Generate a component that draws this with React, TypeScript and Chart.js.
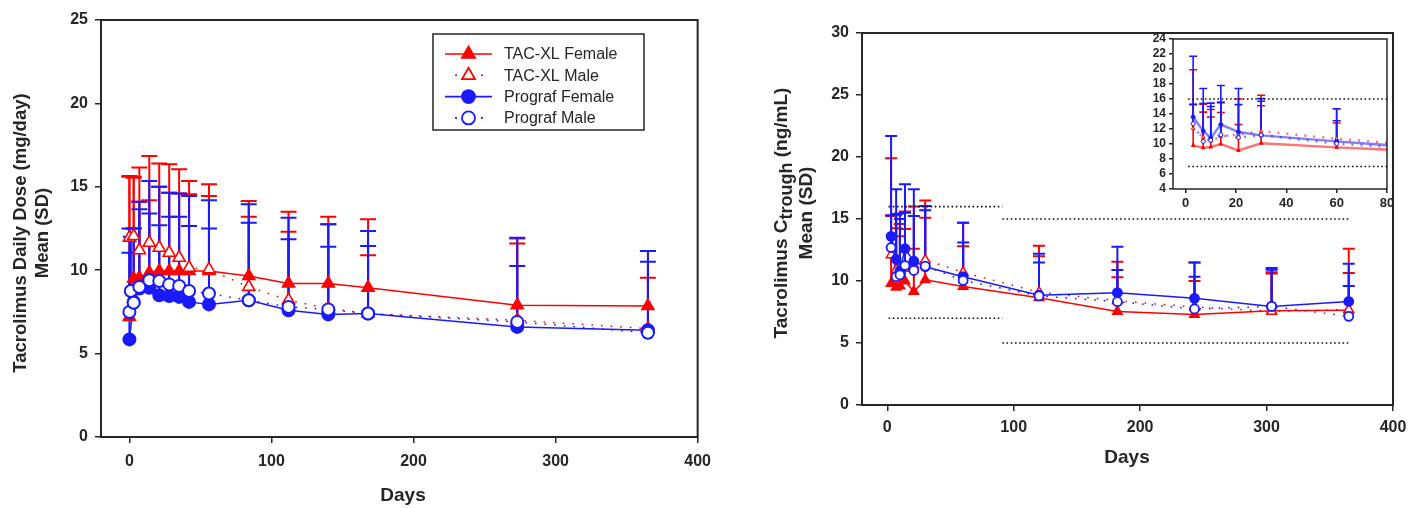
import React, { useEffect, useRef } from 'react';
import { Chart, registerables } from 'chart.js';

Chart.register(...registerables);

const FONT = "'Liberation Sans', Arial, Helvetica, sans-serif";
const RED = '#ff0000';
const BLUE = '#1a1aff';
const INK = '#262626';

// ---------------- Left panel: daily dose (mg/day) ----------------
const legendLabels = ['TAC-XL Female', 'TAC-XL Male', 'Prograf Female', 'Prograf Male'];
const doseXTicks = [0, 100, 200, 300, 400];
const doseYTicks = [0, 5, 10, 15, 20, 25];
const doseDays = [0, 3, 7, 14, 21, 28, 35, 42, 56, 84, 112, 140, 168, 273, 365];
const doseDaysPrografMale = [0, 1, 3, 7, 14, 21, 28, 35, 42, 56, 84, 112, 140, 168, 273, 365];

const doseTacFemaleMean = [7.2, 9.5, 9.55, 9.85, 9.95, 9.95, 9.95, 9.95, 9.95, 9.65, 9.2, 9.2, 8.95, 7.9, 7.85];
const doseTacFemaleSd = [8.4, 6.1, 6.6, 7.0, 6.45, 6.4, 6.1, 5.4, 5.2, 4.5, 4.3, 4.0, 4.1, 4.0, 3.3];
const doseTacMaleMean = [11.95, 12.05, 11.2, 11.65, 11.35, 11.05, 10.75, 10.15, 10.05, 9.0, 8.2, 7.7, 7.4, 7.0, 6.5];
const doseTacMaleSd = [3.7, 3.5, 2.9, 2.55, 3.65, 3.6, 3.85, 4.4, 4.4, 4.2, 4.1, 5.05, 3.5, 4.6, 3.05];
const dosePrografFemaleMean = [5.85, 8.1, 8.9, 8.95, 8.5, 8.45, 8.4, 8.1, 7.95, 8.2, 7.6, 7.35, 7.4, 6.6, 6.4];
const dosePrografFemaleSd = [5.2, 4.4, 5.2, 6.4, 6.5, 6.2, 6.2, 6.35, 6.25, 5.75, 5.55, 5.4, 4.95, 5.35, 4.75];
const dosePrografMaleMean = [7.5, 8.75, 8.05, 9.0, 9.4, 9.35, 9.15, 9.05, 8.75, 8.6, 8.2, 7.8, 7.65, 7.4, 6.9, 6.25];
const dosePrografMaleSd = [5.0, 3.25, 4.45, 4.65, 4.0, 3.35, 4.05, 4.15, 3.9, 3.9, 4.65, 4.05, 3.75, 4.05, 3.35, 4.25];

// ---------------- Right panel: trough concentration (ng/mL) ----------------
const troughXTicks = [0, 100, 200, 300, 400];
const troughYTicks = [0, 5, 10, 15, 20, 25, 30];
const insetXTicks = [0, 20, 40, 60, 80];
const insetYTicks = [4, 6, 8, 10, 12, 14, 16, 18, 20, 22, 24];
const troughDays = [3, 7, 10, 14, 21, 30, 60, 120, 182, 243, 304, 365];

const troughTacFemaleMean = [9.8, 9.5, 9.6, 10.0, 9.15, 10.1, 9.55, 8.65, 7.55, 7.3, 7.6, 7.65];
const troughTacFemaleSd = [10.1, 4.75, 4.0, 4.2, 3.45, 5.0, 3.25, 3.35, 2.75, 2.7, 3.1, 4.95];
const troughTacMaleMean = [12.1, 10.9, 10.4, 11.0, 11.3, 11.7, 10.7, 9.1, 8.4, 7.9, 7.55, 7.7];
const troughTacMaleSd = [3.15, 4.4, 4.2, 4.6, 4.7, 4.8, 4.0, 3.75, 3.15, 3.6, 3.05, 2.95];
const troughPrografFemaleMean = [13.6, 11.75, 10.8, 12.6, 11.6, 11.15, 10.35, 8.85, 9.06, 8.6, 7.95, 8.35];
const troughPrografFemaleSd = [8.1, 5.65, 4.65, 5.2, 5.8, 4.9, 4.35, 3.35, 3.7, 2.9, 3.1, 3.05];
const troughPrografMaleMean = [12.7, 10.35, 10.5, 11.25, 10.85, 11.2, 10.05, 8.8, 8.33, 7.75, 7.95, 7.15];
const troughPrografMaleSd = [2.6, 5.05, 4.5, 4.25, 4.4, 4.5, 3.05, 2.7, 2.55, 2.6, 2.95, 2.45];

// target ranges (dotted reference lines)
const targetEarlyDays = [1, 91];
const targetEarlyHigh = [16, 16];
const targetEarlyLow = [7, 7];
const targetLateDays = [91, 365];
const targetLateHigh = [15, 15];
const targetLateLow = [5, 5];

function pts(days: number[], vals: number[]) {
  return days.map((d, i) => ({ x: d, y: vals[i] }));
}

type Look = {
  r: number; lw: number; pbw: number; errW: number; cap: number; dash: number[]; lineAlpha?: number;
};

function series(label: string, days: number[], mean: number[], sd: number[], color: string,
  shape: string, filled: boolean, dotted: boolean, order: number, look: Look) {
  const lineColor = look.lineAlpha
    ? (color === RED ? `rgba(255,0,0,${look.lineAlpha})` : `rgba(26,26,255,${look.lineAlpha})`)
    : color;
  return {
    type: 'line',
    label,
    data: pts(days, mean),
    sd,
    borderColor: lineColor,
    borderWidth: look.lw,
    borderDash: dotted ? look.dash : [],
    pointStyle: shape,
    pointRadius: look.r,
    pointHoverRadius: look.r,
    pointBackgroundColor: filled ? color : '#ffffff',
    pointBorderColor: color,
    pointBorderWidth: look.pbw,
    backgroundColor: color,
    fill: false,
    tension: 0,
    order,
    errColor: color,
    errWidth: look.errW,
    capHalf: look.cap,
    filled,
    dotted,
    shape,
    markColor: color,
  };
}

function target(days: number[], vals: number[], width: number) {
  return {
    type: 'line',
    data: pts(days, vals),
    borderColor: '#111',
    borderWidth: width,
    borderDash: [1.6, 2.6],
    pointRadius: 0,
    fill: false,
    order: 20,
  };
}

const errorBarPlugin = {
  id: 'errorBars',
  beforeDatasetsDraw(chart: any) {
    const { ctx, chartArea, scales } = chart;
    const x = scales.x, y = scales.y;
    ctx.save();
    ctx.beginPath();
    ctx.rect(chartArea.left, chartArea.top, chartArea.right - chartArea.left, chartArea.bottom - chartArea.top);
    ctx.clip();
    chart.data.datasets.forEach((ds: any) => {
      if (!ds.sd) return;
      ctx.strokeStyle = ds.errColor;
      ctx.lineWidth = ds.errWidth;
      ctx.setLineDash([]);
      ds.data.forEach((p: any, i: number) => {
        const px = x.getPixelForValue(p.x);
        const py0 = y.getPixelForValue(p.y);
        const py1 = y.getPixelForValue(p.y + ds.sd[i]);
        ctx.beginPath();
        ctx.moveTo(px, py0);
        ctx.lineTo(px, py1);
        ctx.moveTo(px - ds.capHalf, py1);
        ctx.lineTo(px + ds.capHalf, py1);
        ctx.stroke();
      });
    });
    ctx.restore();
  },
};

function framePlugin(width: number, fillWhite: boolean) {
  return {
    id: 'frame',
    beforeDraw(chart: any) {
      if (!fillWhite) return;
      const a = chart.chartArea;
      chart.ctx.save();
      chart.ctx.fillStyle = '#ffffff';
      chart.ctx.fillRect(a.left, a.top, a.right - a.left, a.bottom - a.top);
      chart.ctx.restore();
    },
    afterDraw(chart: any) {
      const a = chart.chartArea;
      const ctx = chart.ctx;
      ctx.save();
      ctx.strokeStyle = INK;
      ctx.lineWidth = width;
      ctx.setLineDash([]);
      ctx.strokeRect(a.left, a.top, a.right - a.left, a.bottom - a.top);
      ctx.restore();
    },
  };
}

function drawMarker(ctx: CanvasRenderingContext2D, shape: string, x: number, y: number, r: number,
  color: string, filled: boolean, bw: number) {
  ctx.beginPath();
  if (shape === 'triangle') {
    ctx.moveTo(x, y - r);
    ctx.lineTo(x + 0.866 * r, y + 0.5 * r);
    ctx.lineTo(x - 0.866 * r, y + 0.5 * r);
    ctx.closePath();
  } else {
    ctx.arc(x, y, r, 0, Math.PI * 2);
  }
  ctx.fillStyle = filled ? color : '#ffffff';
  ctx.fill();
  ctx.strokeStyle = color;
  ctx.lineWidth = bw;
  ctx.stroke();
}

const legendPlugin = {
  id: 'boxLegend',
  afterDraw(chart: any) {
    const ctx = chart.ctx as CanvasRenderingContext2D;
    const bx = 433, by = 34, bw = 211, bh = 96;
    ctx.save();
    ctx.fillStyle = '#ffffff';
    ctx.fillRect(bx, by, bw, bh);
    ctx.strokeStyle = INK;
    ctx.lineWidth = 1.5;
    ctx.strokeRect(bx, by, bw, bh);
    const list = chart.data.datasets.filter((d: any) => d.sd);
    list.forEach((ds: any, i: number) => {
      const y = 54 + i * 21.3;
      ctx.strokeStyle = ds.markColor;
      ctx.lineWidth = 1.6;
      if (ds.dotted) {
        ctx.setLineDash([2, 11]);
        ctx.beginPath();
        ctx.moveTo(455, y);
        ctx.lineTo(486, y);
        ctx.stroke();
        ctx.setLineDash([]);
      } else {
        ctx.beginPath();
        ctx.moveTo(445, y);
        ctx.lineTo(492, y);
        ctx.stroke();
      }
      drawMarker(ctx, ds.shape, 468.5, y, ds.shape === 'triangle' ? 7.5 : 6.5, ds.markColor, ds.filled, 1.8);
      ctx.fillStyle = INK;
      ctx.font = `16px ${FONT}`;
      ctx.textAlign = 'left';
      ctx.textBaseline = 'middle';
      ctx.fillText(ds.label, 504, y + 1);
    });
    ctx.restore();
  },
};

type Seg = { t: string; size: number; dy?: number };

function drawVertical(ctx: CanvasRenderingContext2D, cx: number, cy: number, segs: Seg[]) {
  ctx.save();
  ctx.translate(cx, cy);
  ctx.rotate(-Math.PI / 2);
  let total = 0;
  segs.forEach((s) => {
    ctx.font = `bold ${s.size}px ${FONT}`;
    total += ctx.measureText(s.t).width;
  });
  let x = -total / 2;
  ctx.textBaseline = 'middle';
  ctx.textAlign = 'left';
  ctx.fillStyle = INK;
  segs.forEach((s) => {
    ctx.font = `bold ${s.size}px ${FONT}`;
    ctx.fillText(s.t, x, s.dy || 0);
    x += ctx.measureText(s.t).width;
  });
  ctx.restore();
}

function textPlugin(draw: (ctx: CanvasRenderingContext2D) => void) {
  return {
    id: 'axisTexts',
    afterDraw(chart: any) {
      chart.ctx.save();
      draw(chart.ctx);
      chart.ctx.restore();
    },
  };
}

function axes(o: {
  xMin: number; xMax: number; yMin: number; yMax: number; xTicks: number[]; yTicks: number[];
  yWidth: number; xHeight: number; size: number; ySize?: number; tickLen: number; xPad: number; yPad: number;
}) {
  const tickFont = { family: FONT, size: o.size, weight: 'bold' };
  const yFont = { family: FONT, size: o.ySize || o.size, weight: 'bold' };
  const grid = { display: true, drawOnChartArea: false, drawTicks: true, tickLength: o.tickLen, color: INK, lineWidth: 1.5 };
  return {
    x: {
      type: 'linear',
      min: o.xMin,
      max: o.xMax,
      afterBuildTicks: (a: any) => { a.ticks = o.xTicks.map((v) => ({ value: v })); },
      afterFit: (a: any) => { a.height = o.xHeight; },
      grid,
      border: { display: false },
      ticks: { font: tickFont, color: INK, padding: o.xPad, autoSkip: false, maxRotation: 0, minRotation: 0, callback: (v: any) => String(v) },
    },
    y: {
      type: 'linear',
      min: o.yMin,
      max: o.yMax,
      afterBuildTicks: (a: any) => { a.ticks = o.yTicks.map((v) => ({ value: v })); },
      afterFit: (a: any) => { a.width = o.yWidth; },
      grid,
      border: { display: false },
      ticks: { font: yFont, color: INK, padding: o.yPad, autoSkip: false, callback: (v: any) => String(v) },
    },
  };
}

const bigLook: Look = { r: 6, lw: 1.5, pbw: 2, errW: 2, cap: 8, dash: [1.6, 8] };
const bigTri: Look = { ...bigLook, r: 7, pbw: 1.6 };
const midLook: Look = { r: 4.5, lw: 1.5, pbw: 1.8, errW: 2, cap: 6, dash: [1.6, 8] };
const midTri: Look = { ...midLook, r: 5.5, pbw: 1.5 };
const smallLook: Look = { r: 2, lw: 2.5, pbw: 1, errW: 1.6, cap: 4, dash: [2, 7], lineAlpha: 0.55 };

function baseOptions(padding: any, scales: any) {
  return {
    responsive: false,
    animation: false,
    events: [],
    layout: { padding },
    plugins: { legend: { display: false }, tooltip: { enabled: false }, title: { display: false } },
    scales,
  };
}

function troughSets(tri: Look, circ: Look, targetWidth: number) {
  return [
    target(targetEarlyDays, targetEarlyHigh, targetWidth),
    target(targetEarlyDays, targetEarlyLow, targetWidth),
    target(targetLateDays, targetLateHigh, targetWidth),
    target(targetLateDays, targetLateLow, targetWidth),
    series(legendLabels[0], troughDays, troughTacFemaleMean, troughTacFemaleSd, RED, 'triangle', true, false, 4, tri),
    series(legendLabels[1], troughDays, troughTacMaleMean, troughTacMaleSd, RED, 'triangle', false, true, 3, tri),
    series(legendLabels[2], troughDays, troughPrografFemaleMean, troughPrografFemaleSd, BLUE, 'circle', true, false, 2, circ),
    series(legendLabels[3], troughDays, troughPrografMaleMean, troughPrografMaleSd, BLUE, 'circle', false, true, 1, circ),
  ];
}

export default function App() {
  const leftRef = useRef<HTMLCanvasElement | null>(null);
  const rightRef = useRef<HTMLCanvasElement | null>(null);
  const insetRef = useRef<HTMLCanvasElement | null>(null);

  useEffect(() => {
    const charts: Chart[] = [];

    // Left chart: canvas at page (0,0), 720x508
    charts.push(new Chart(leftRef.current as HTMLCanvasElement, {
      type: 'line',
      data: {
        datasets: [
          series(legendLabels[0], doseDays, doseTacFemaleMean, doseTacFemaleSd, RED, 'triangle', true, false, 4, bigTri),
          series(legendLabels[1], doseDays, doseTacMaleMean, doseTacMaleSd, RED, 'triangle', false, true, 3, bigTri),
          series(legendLabels[2], doseDays, dosePrografFemaleMean, dosePrografFemaleSd, BLUE, 'circle', true, false, 2, bigLook),
          series(legendLabels[3], doseDaysPrografMale, dosePrografMaleMean, dosePrografMaleSd, BLUE, 'circle', false, true, 1, bigLook),
        ] as any,
      },
      options: baseOptions({ left: 0, top: 20, right: 22, bottom: 0 }, axes({
        xMin: -20, xMax: 400, yMin: 0, yMax: 25, xTicks: doseXTicks, yTicks: doseYTicks,
        yWidth: 101, xHeight: 71, size: 16, tickLen: 6, xPad: 9, yPad: 7,
      })) as any,
      plugins: [errorBarPlugin, framePlugin(2, false), legendPlugin, textPlugin((ctx) => {
        ctx.fillStyle = INK;
        ctx.font = `bold 19px ${FONT}`;
        ctx.textAlign = 'center';
        ctx.textBaseline = 'middle';
        ctx.fillText('Days', 403, 496);
        drawVertical(ctx, 21, 233, [{ t: 'Tacrolimus Daily Dose (mg/day)', size: 18.5 }]);
        drawVertical(ctx, 43, 233, [{ t: 'Mean (SD)', size: 18.5 }]);
      })] as any,
    }));

    // Right chart: canvas at page (720,0), 696x508
    charts.push(new Chart(rightRef.current as HTMLCanvasElement, {
      type: 'line',
      data: { datasets: troughSets(midTri, midLook, 1.6) as any },
      options: baseOptions({ left: 0, top: 33, right: 23, bottom: 0 }, axes({
        xMin: -20, xMax: 400, yMin: 0, yMax: 30, xTicks: troughXTicks, yTicks: troughYTicks,
        yWidth: 142, xHeight: 103, size: 16, tickLen: 6, xPad: 7, yPad: 7,
      })) as any,
      plugins: [errorBarPlugin, framePlugin(2, false), textPlugin((ctx) => {
        ctx.fillStyle = INK;
        ctx.font = `bold 19px ${FONT}`;
        ctx.textAlign = 'center';
        ctx.textBaseline = 'middle';
        ctx.fillText('Days', 407, 458);
        drawVertical(ctx, 62, 213, [
          { t: 'Tacrolimus C', size: 19 },
          { t: 'trough', size: 18, dy: 5 },
          { t: ' (ng/mL)', size: 19 },
        ]);
        drawVertical(ctx, 87, 213, [{ t: 'Mean (SD)', size: 19 }]);
      })] as any,
    }));

    // Inset chart: canvas at page (1120,20), 296x200
    charts.push(new Chart(insetRef.current as HTMLCanvasElement, {
      type: 'line',
      data: { datasets: troughSets(smallLook, smallLook, 1.5) as any },
      options: baseOptions({ left: 0, top: 19, right: 29, bottom: 0 }, axes({
        xMin: -5, xMax: 80, yMin: 4, yMax: 24, xTicks: insetXTicks, yTicks: insetYTicks,
        yWidth: 53, xHeight: 31, size: 13, ySize: 12, tickLen: 4, xPad: 3, yPad: 3,
      })) as any,
      plugins: [errorBarPlugin, framePlugin(1.5, true)] as any,
    }));

    return () => { charts.forEach((c) => c.destroy()); };
  }, []);

  return (
    <div style={{ position: 'fixed', left: 0, top: 0, width: 1416, height: 508, background: '#ffffff', overflow: 'hidden' }}>
      <canvas ref={leftRef} width={720} height={508} style={{ position: 'absolute', left: 0, top: 0 }} />
      <canvas ref={rightRef} width={696} height={508} style={{ position: 'absolute', left: 720, top: 0 }} />
      <canvas ref={insetRef} width={296} height={200} style={{ position: 'absolute', left: 1120, top: 20 }} />
    </div>
  );
}
